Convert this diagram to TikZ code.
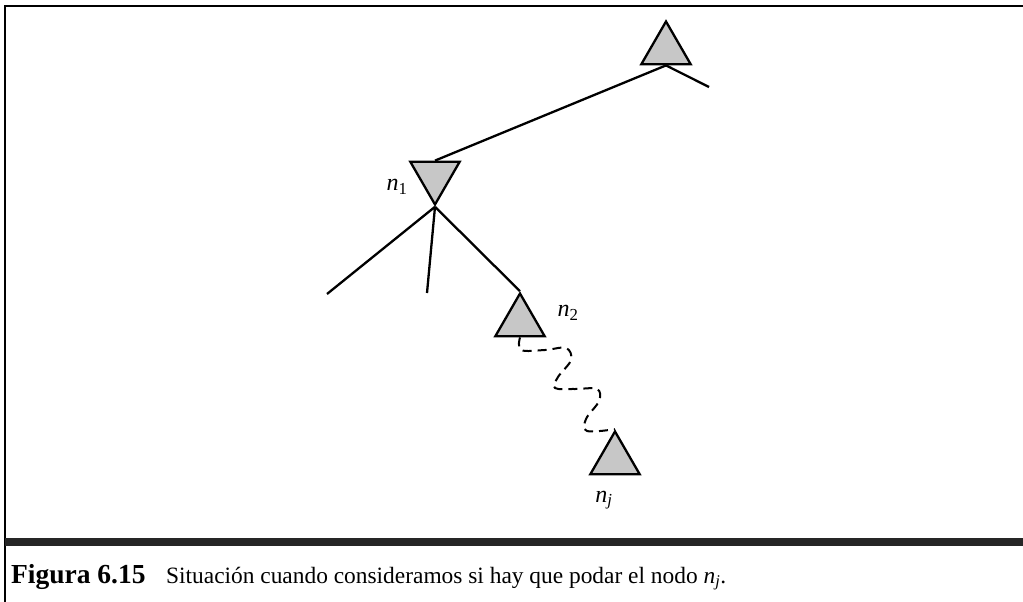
\documentclass[tikz,border=0pt]{standalone}
\usepackage{fontspec}
\setmainfont{Liberation Serif}
\usetikzlibrary{shapes.geometric, positioning}

\begin{document}
\begin{tikzpicture}[x=1pt, y=-1pt, line width=2.3pt,
   maxnode/.style={regular polygon, regular polygon sides=3, draw, fill=black!22,
                   minimum size=57pt, inner sep=0pt},
   minnode/.style={maxnode, shape border rotate=180},
   lbl/.style={font=\fontsize{24}{28}\selectfont},
   wavy/.style={dash pattern=on 9pt off 6pt, line width=2pt}]
   \useasboundingbox (0,0) rectangle (1023,602);

   % frame and caption bar
   \draw[line width=1.5pt] (5,602) -- (5,6) -- (1023,6);
   \fill[black!85] (5,538) rectangle (1023,546);

   % tree
   \node[maxnode] (top) at (666,50) {};
   \node[minnode] (n1)  at (435,176) {};
   \node[maxnode] (n2)  at (520,322) {};
   \node[maxnode] (nj)  at (615,460) {};

   \coordinate (r1) at (709,87);
   \coordinate (c1) at (327,294);
   \coordinate (c2) at (427,293);

   \draw (top.south) -- (n1.north)
         (top.south) -- (r1);
   \draw (n1.south) -- (c1)
         (n1.south) -- (c2)
         (n1.south) -- (n2.north);

   \draw[wavy] plot[smooth, tension=0.6] coordinates {(n2.south) (521,350) (545,350)
      (566,348) (571,360) (558,377) (555,388) (575,389) (597,389) (599,401) (586,419)
      (587,431) (nj.north)};

   \node[lbl] (n1lbl) at (397,187) {\textit{n}\textsubscript{1}};
   \node[lbl] (n2lbl) at (568,313) {\textit{n}\textsubscript{2}};
   \node[lbl] (njlbl) at (604,500) {\textit{n}\textsubscript{\textit{j}}};

   % caption
   \node[anchor=base west, inner sep=0pt, font=\fontsize{27.5}{31}\selectfont\bfseries]
      (figno) at (10,583) {Figura 6.15};
   \node[anchor=base west, inner sep=0pt, font=\fontsize{23.4}{27}\selectfont]
      (captxt) at (165,583) {Situación cuando consideramos si hay que podar el nodo \textit{n}\textsubscript{\textit{j}}.};
\end{tikzpicture}
\end{document}
